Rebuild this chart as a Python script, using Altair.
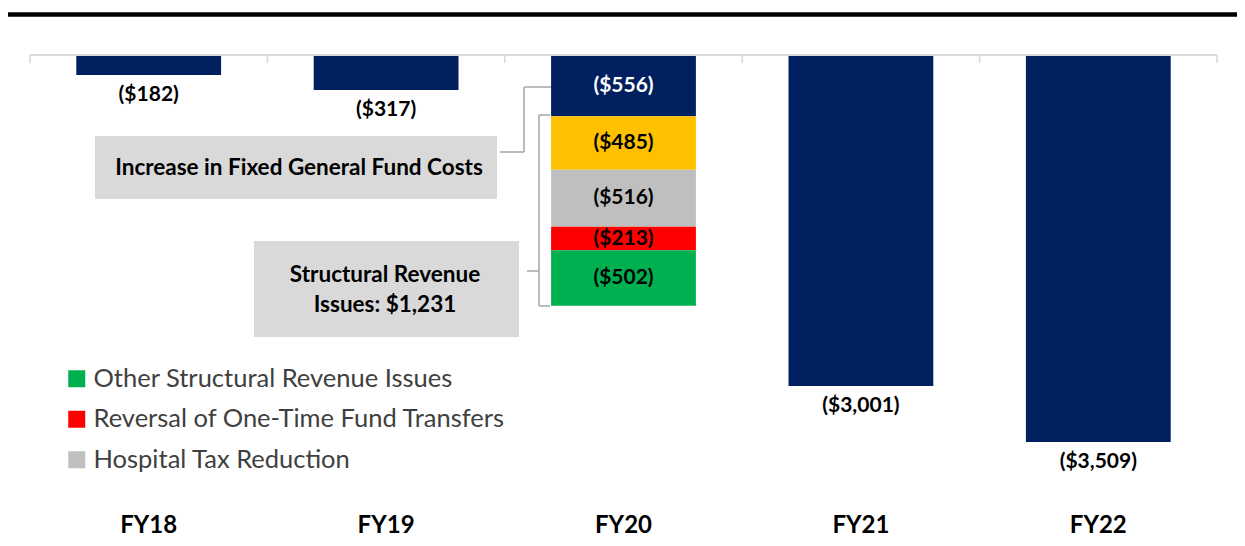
import altair as alt
import pandas as pd

# ---------------- data ----------------
years = ["FY18", "FY19", "FY20", "FY21", "FY22"]
single_years = ["FY18", "FY19", "FY21", "FY22"]
single_values = [-182, -317, -3001, -3509]
fy20_parts = [
    "Increase in Fixed General Fund Costs",
    "Other Cost Growth",
    "Hospital Tax Reduction",
    "Reversal of One-Time Fund Transfers",
    "Other Structural Revenue Issues",
]
fy20_values = [-556, -485, -516, -213, -502]
total_name = "Budget Shortfall"
part_colors = ["#002060", "#FFC000", "#BFBFBF", "#FF0000", "#00B050"]
legend_items = [
    "Other Structural Revenue Issues",
    "Reversal of One-Time Fund Transfers",
    "Hospital Tax Reduction",
]
box1_text = "Increase in Fixed General Fund Costs"
box2_text = "Structural Revenue\nIssues: $1,231"


def fmt(v):
    return f"(${abs(v):,})"


rows = []
for y, v in zip(single_years, single_values):
    rows.append({"year": y, "part": total_name, "value": v, "order": 0, "label": fmt(v)})
for i, (p, v) in enumerate(zip(fy20_parts, fy20_values)):
    rows.append({"year": "FY20", "part": p, "value": v, "order": i, "label": fmt(v)})
df = pd.DataFrame(rows)
tick_df = pd.DataFrame({"year": years})

# ---------------- layout ----------------
W, H = 1187, 445
YMIN = -4034
FONT = "Lato"
LIGHT = "#D9D9D9"

xscale = alt.Scale(domain=years, paddingInner=0.39, paddingOuter=0.195)
xstep = alt.Scale(domain=years, paddingInner=0, paddingOuter=0)
yscale = alt.Scale(domain=[YMIN, 0], nice=False)

base = alt.Chart(df).transform_stack(
    stack="value", groupby=["year"], as_=["y0", "y1"],
    sort=[alt.SortField("order", order="ascending")],
).transform_calculate(mid="(datum.y0 + datum.y1) / 2")

bars = base.mark_bar().encode(
    x=alt.X("year:N", scale=xscale, sort=years,
            axis=alt.Axis(title=None, domain=False, ticks=False, labelAngle=0,
                          labelFont=FONT, labelFontSize=24, labelFontWeight="bold",
                          labelColor="black", labelPadding=13)),
    y=alt.Y("y0:Q", scale=yscale, axis=None),
    y2="y1:Q",
    color=alt.Color("part:N",
                    scale=alt.Scale(domain=[total_name] + fy20_parts,
                                    range=[part_colors[0]] + part_colors),
                    legend=alt.Legend(values=legend_items, title=None, orient="none",
                                      legendX=34, legendY=311, direction="vertical",
                                      symbolType="square", symbolSize=289,
                                      symbolStrokeWidth=0, labelFont=FONT,
                                      labelFontSize=25.5, labelColor="#404040",
                                      labelLimit=600, rowPadding=13.5, labelOffset=4)),
)

zero_line = alt.Chart(tick_df).mark_rule(color=LIGHT, strokeWidth=1.5).encode(
    x=alt.value(0), x2=alt.value(W), y=alt.value(0))

tick_rules = alt.Chart(tick_df).mark_rule(color=LIGHT, strokeWidth=1.5).encode(
    x=alt.X("year:N", scale=xstep, sort=years, bandPosition=0, axis=None),
    y=alt.value(0), y2=alt.value(8),
)
tick_end = alt.Chart(tick_df).transform_filter(alt.datum.year == years[-1]).mark_rule(
    color=LIGHT, strokeWidth=1.5).encode(
    x=alt.X("year:N", scale=xstep, sort=years, bandPosition=1, axis=None),
    y=alt.value(0), y2=alt.value(8),
)

below_labels = base.transform_filter(alt.datum.year != "FY20").mark_text(
    baseline="top", dy=9, font=FONT, fontSize=21, fontWeight="bold", color="black"
).encode(
    x=alt.X("year:N", scale=xscale, sort=years, axis=None),
    y=alt.Y("y1:Q", scale=yscale, axis=None),
    text="label:N",
)

inside_labels = base.transform_filter(alt.datum.year == "FY20").mark_text(
    baseline="middle", font=FONT, fontSize=21, fontWeight="bold"
).encode(
    x=alt.X("year:N", scale=xscale, sort=years, axis=None),
    y=alt.Y("mid:Q", scale=yscale, axis=None),
    text="label:N",
    color=alt.condition(alt.datum.part == fy20_parts[0], alt.value("white"), alt.value("black")),
)

one = pd.DataFrame({"k": [0]})
ann = alt.Chart(one)
GRAY = "#A6A6A6"

box1 = ann.mark_rect(color=LIGHT).encode(
    x=alt.value(65), x2=alt.value(467), y=alt.value(81), y2=alt.value(144))
box1_t = ann.mark_text(font=FONT, fontSize=22.5, fontWeight="bold", color="black",
                       baseline="middle").encode(
    x=alt.value(269), y=alt.value(113), text=alt.value(box1_text))
box2 = ann.mark_rect(color=LIGHT).encode(
    x=alt.value(224), x2=alt.value(489), y=alt.value(186), y2=alt.value(282))
box2_t = ann.mark_text(font=FONT, fontSize=22.5, fontWeight="bold", color="black",
                       baseline="middle", lineBreak="\n", lineHeight=30).encode(
    x=alt.value(355), y=alt.value(220), text=alt.value(box2_text))


def seg(x1, y1, x2, y2, color=GRAY, w=1.5):
    return ann.mark_rule(color=color, strokeWidth=w).encode(
        x=alt.value(x1), y=alt.value(y1), x2=alt.value(x2), y2=alt.value(y2))


connector = [
    seg(470, 97, 494, 97),
    seg(494, 97, 494, 32),
    seg(494, 32, 521, 32),
]
brace = [
    seg(509, 60, 509, 251),
    seg(509, 60, 520, 60),
    seg(509, 251, 520, 251),
    seg(497, 216, 509, 216),
]
top_line = ann.mark_rule(color="black", strokeWidth=4.5).encode(
    x=alt.value(-22), x2=alt.value(W + 40), y=alt.value(-40.5))

chart = alt.layer(
    top_line, box1, box2, *connector, *brace, bars, zero_line, tick_rules, tick_end,
    below_labels, inside_labels, box1_t, box2_t,
).resolve_scale(x="independent").resolve_axis(x="independent").properties(
    width=W, height=H,
    padding={"left": 22, "top": 47, "right": 20, "bottom": 38},
    autosize=alt.AutoSizeParams(type="none"),
).configure_view(stroke=None)

chart.save("out.html", embed_options={"renderer": "svg", "actions": False})
